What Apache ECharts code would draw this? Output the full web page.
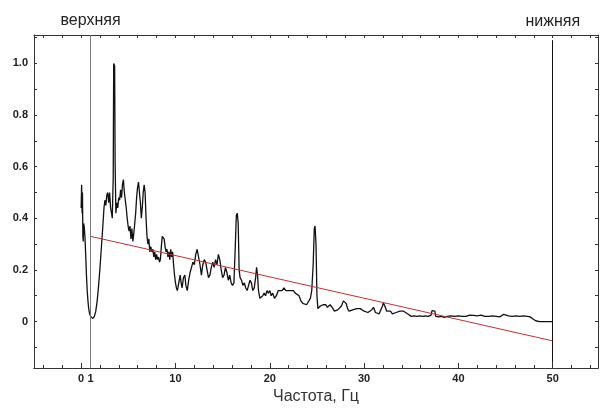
<!DOCTYPE html>
<html>
<head>
<meta charset="utf-8">
<script src="https://cdn.jsdelivr.net/npm/echarts@6/dist/echarts.min.js"></script>
<style>
  html, body { margin: 0; padding: 0; background: #fff; }
  #chart { width: 600px; height: 410px; }
</style>
</head>
<body>
<div id="chart"></div>
<script>
// частота, Гц
const freq = [
  0.00, 0.05, 0.10, 0.14, 0.18, 0.22, 0.26, 0.32, 0.40, 0.48, 0.56, 0.64, 0.72, 0.80, 0.90, 1.00,
  1.10, 1.25, 1.40, 1.55, 1.70, 1.85, 2.00, 2.15, 2.30, 2.42, 2.52, 2.62, 2.72, 2.82, 2.92, 3.02,
  3.12, 3.22, 3.30, 3.40, 3.45, 3.55, 3.60, 3.68, 3.78, 3.88, 3.98, 4.08, 4.18, 4.28, 4.38, 4.48,
  4.58, 4.68, 4.78, 4.88, 4.98, 5.08, 5.18, 5.28, 5.38, 5.48, 5.58, 5.68, 5.78, 5.88, 5.98, 6.08,
  6.18, 6.28, 6.38, 6.48, 6.58, 6.68, 6.78, 6.88, 6.98, 7.08, 7.18, 7.28, 7.38, 7.5, 7.6, 7.7,
  7.8, 7.9, 8.0, 8.1, 8.2, 8.3, 8.4, 8.5, 8.6, 8.7, 8.8, 8.9, 9.0, 9.1, 9.2, 9.3,
  9.4, 9.5, 9.6, 9.7, 9.8, 9.9, 10.0, 10.1, 10.2, 10.35, 10.5, 10.6, 10.7, 10.85, 11.0, 11.1,
  11.25, 11.4, 11.55, 11.7, 11.85, 12.0, 12.15, 12.3, 12.45, 12.6, 12.75, 12.9, 13.05, 13.2, 13.35, 13.5,
  13.65, 13.8, 13.95, 14.1, 14.25, 14.4, 14.55, 14.7, 14.85, 15.0, 15.15, 15.3, 15.45, 15.6, 15.75, 15.9,
  16.05, 16.2, 16.35, 16.45, 16.55, 16.65, 16.75, 16.85, 17.0, 17.15, 17.3, 17.45, 17.6, 17.75, 17.9, 18.05,
  18.2, 18.35, 18.5, 18.6, 18.7, 18.8, 18.95, 19.1, 19.25, 19.4, 19.55, 19.7, 19.85, 20.0, 20.15, 20.3,
  20.5, 20.7, 20.9, 21.1, 21.3, 21.5, 21.7, 21.9, 22.1, 22.3, 22.5, 22.7, 22.9, 23.1, 23.3, 23.5,
  23.7, 23.9, 24.1, 24.3, 24.45, 24.6, 24.72, 24.8, 24.9, 25.0, 25.1, 25.2, 25.35, 25.5, 25.65, 25.8,
  25.95, 26.1, 26.25, 26.4, 26.55, 26.7, 26.85, 27.0, 27.2, 27.4, 27.6, 27.8, 27.95, 28.1, 28.25, 28.4,
  28.6, 28.8, 29.0, 29.2, 29.4, 29.6, 29.8, 30.0, 30.2, 30.4, 30.6, 30.8, 31.0, 31.2, 31.4, 31.6,
  31.8, 31.95, 32.05, 32.2, 32.4, 32.6, 32.8, 33.0, 33.2, 33.4, 33.6, 33.8, 34.0, 34.2, 34.4, 34.6,
  34.8, 35.0, 35.3, 35.6, 35.9, 36.2, 36.5, 36.8, 37.1, 37.2, 37.35, 37.5, 37.6, 37.9, 38.2, 38.5,
  38.8, 39.2, 39.6, 40.0, 40.4, 40.8, 41.2, 41.6, 42.0, 42.4, 42.8, 43.2, 43.6, 44.0, 44.4, 44.8,
  45.0, 45.3, 45.7, 46.1, 46.5, 46.9, 47.3, 47.6, 47.9, 48.2, 48.6, 49.0, 49.5, 50.0
]
// амплитуда (отн.)
const ampl = [
  0.44, 0.53, 0.42, 0.50, 0.33, 0.31, 0.38, 0.37, 0.33, 0.26, 0.18, 0.12, 0.08, 0.05, 0.03, 0.02,
  0.013, 0.012, 0.02, 0.04, 0.08, 0.14, 0.21, 0.29, 0.37, 0.44, 0.47, 0.45, 0.49, 0.50, 0.46, 0.50,
  0.44, 0.42, 0.40, 0.56, 1.0, 0.99, 0.62, 0.42, 0.46, 0.44, 0.48, 0.47, 0.51, 0.48, 0.53, 0.55,
  0.50, 0.47, 0.44, 0.40, 0.37, 0.35, 0.37, 0.32, 0.36, 0.31, 0.34, 0.38, 0.42, 0.48, 0.52, 0.54,
  0.50, 0.46, 0.40, 0.44, 0.50, 0.53, 0.50, 0.40, 0.33, 0.30, 0.32, 0.27, 0.29, 0.27, 0.28, 0.25,
  0.27, 0.24, 0.26, 0.24, 0.25, 0.23, 0.24, 0.29, 0.33, 0.335, 0.32, 0.29, 0.27, 0.28, 0.25, 0.27,
  0.24, 0.28, 0.25, 0.27, 0.22, 0.18, 0.15, 0.13, 0.12, 0.15, 0.18, 0.15, 0.13, 0.17, 0.18, 0.14,
  0.12, 0.16, 0.19, 0.21, 0.23, 0.22, 0.26, 0.28, 0.25, 0.22, 0.18, 0.22, 0.24, 0.23, 0.20, 0.17,
  0.18, 0.21, 0.23, 0.21, 0.24, 0.22, 0.26, 0.24, 0.20, 0.17, 0.18, 0.21, 0.19, 0.16, 0.18, 0.15,
  0.14, 0.15, 0.30, 0.41, 0.42, 0.38, 0.20, 0.17, 0.16, 0.14, 0.15, 0.13, 0.12, 0.14, 0.16, 0.15,
  0.12, 0.13, 0.17, 0.21, 0.18, 0.12, 0.09, 0.085, 0.10, 0.11, 0.10, 0.12, 0.11, 0.12, 0.10, 0.11,
  0.09, 0.10, 0.12, 0.125, 0.12, 0.13, 0.12, 0.125, 0.12, 0.115, 0.12, 0.11, 0.105, 0.10, 0.08, 0.07,
  0.075, 0.065, 0.07, 0.09, 0.12, 0.22, 0.36, 0.37, 0.30, 0.10, 0.05, 0.045, 0.06, 0.055, 0.065, 0.06,
  0.065, 0.055, 0.05, 0.065, 0.06, 0.05, 0.04, 0.04, 0.045, 0.04, 0.06, 0.08, 0.085, 0.07, 0.05, 0.04,
  0.04, 0.045, 0.04, 0.05, 0.055, 0.05, 0.055, 0.04, 0.04, 0.035, 0.04, 0.045, 0.055, 0.035, 0.03, 0.03,
  0.035, 0.06, 0.072, 0.06, 0.04, 0.035, 0.04, 0.03, 0.03, 0.035, 0.035, 0.04, 0.045, 0.04, 0.042, 0.03,
  0.025, 0.02, 0.022, 0.02, 0.022, 0.02, 0.022, 0.02, 0.025, 0.042, 0.045, 0.04, 0.02, 0.018, 0.02, 0.016,
  0.02, 0.022, 0.02, 0.022, 0.02, 0.02, 0.025, 0.024, 0.022, 0.025, 0.02, 0.02, 0.022, 0.02, 0.018, 0.028,
  0.035, 0.022, 0.02, 0.022, 0.02, 0.022, 0.02, 0.018, 0.01, 0.003, 0.0, 0.0, 0.0, 0.0
]
// линия тренда
const trendX = [1, 50]
const trendY = [0.33, -0.075]
// границы диапазона
const upperBound = 1
const lowerBound = 50
const xLabels = [0, 1, 10, 20, 30, 40, 50]
const xMajor = [0, 10, 20, 30, 40, 50]
const yLabels = [0, 0.2, 0.4, 0.6, 0.8, 1.0]

let xMinor = []
for (let v = -4; v <= 54; v += 2) xMinor.push(v)
let yMinor = []
for (let k = -1; k <= 11; k++) yMinor.push(k / 10)

let myChart = echarts.init(document.getElementById('chart'))
const font = 'Liberation Sans, Arial, sans-serif'
const lineStyle = { color: '#333', width: 1 }

let option = {
  animation: false,
  grid: { left: 34, right: 2, top: 35, bottom: 39 },
  xAxis: [
    {
      type: 'value', position: 'bottom', min: -5, max: 54.8,
      splitLine: { show: false },
      axisLine: { onZero: false, lineStyle: lineStyle },
      axisTick: { inside: true, length: 5, lineStyle: lineStyle, customValues: xMajor },
      axisLabel: {
        customValues: xLabels, margin: 5,
        color: '#222', fontFamily: font, fontWeight: 'bold', fontSize: 11
      },
      name: 'Частота, Гц', nameLocation: 'middle', nameGap: 21,
      nameTextStyle: { color: '#333', fontFamily: font, fontSize: 16 }
    },
    {
      type: 'value', position: 'bottom', min: -5, max: 54.8,
      splitLine: { show: false },
      axisLine: { onZero: false, lineStyle: lineStyle },
      axisTick: { inside: true, length: 3, lineStyle: lineStyle, customValues: xMinor },
      axisLabel: { show: false }
    },
    {
      type: 'value', position: 'top', min: -5, max: 54.8,
      splitLine: { show: false },
      axisLine: { onZero: false, lineStyle: lineStyle },
      axisTick: { inside: true, length: 3, lineStyle: lineStyle, customValues: xMinor },
      axisLabel: { show: false }
    }
  ],
  yAxis: [
    {
      type: 'value', position: 'left', min: -0.18, max: 1.11,
      splitLine: { show: false },
      axisLine: { show: true, onZero: false, lineStyle: lineStyle },
      axisTick: { show: true, inside: true, length: 3, lineStyle: lineStyle, customValues: yMinor },
      axisLabel: {
        customValues: yLabels, margin: 6,
        color: '#222', fontFamily: font, fontWeight: 'bold', fontSize: 11,
        formatter: function (v) { return v === 0 ? '0' : v.toFixed(1) }
      }
    },
    {
      type: 'value', position: 'right', min: -0.18, max: 1.11,
      splitLine: { show: false },
      axisLine: { show: true, onZero: false, lineStyle: lineStyle },
      axisTick: { show: true, inside: true, length: 3, lineStyle: lineStyle, customValues: yMinor },
      axisLabel: { show: false }
    }
  ],
  series: [
    {
      name: 'spectrum',
      type: 'line',
      showSymbol: false,
      silent: true,
      lineStyle: { color: '#111', width: 1.3 },
      data: freq.map(function (f, i) { return [f, ampl[i]] }),
      markLine: {
        silent: true,
        symbol: 'none',
        animation: false,
        label: {
          position: 'end', color: '#222', fontFamily: font, fontSize: 16
        },
        data: [
          [
            { coord: [upperBound, -0.18], lineStyle: { color: '#777', width: 1, type: 'solid' } },
            { coord: [upperBound, 1.11], label: { formatter: 'верхняя', distance: 6 } }
          ],
          [
            { coord: [lowerBound, -0.16], lineStyle: { color: '#111', width: 1, type: 'solid' } },
            { coord: [lowerBound, 1.09], label: { formatter: 'нижняя', distance: 11 } }
          ]
        ]
      }
    },
    {
      name: 'trend',
      type: 'line',
      showSymbol: false,
      silent: true,
      lineStyle: { color: '#c03030', width: 1 },
      data: trendX.map(function (x, i) { return [x, trendY[i]] })
    }
  ]
}
myChart.setOption(option, true)
</script>
</body>
</html>
